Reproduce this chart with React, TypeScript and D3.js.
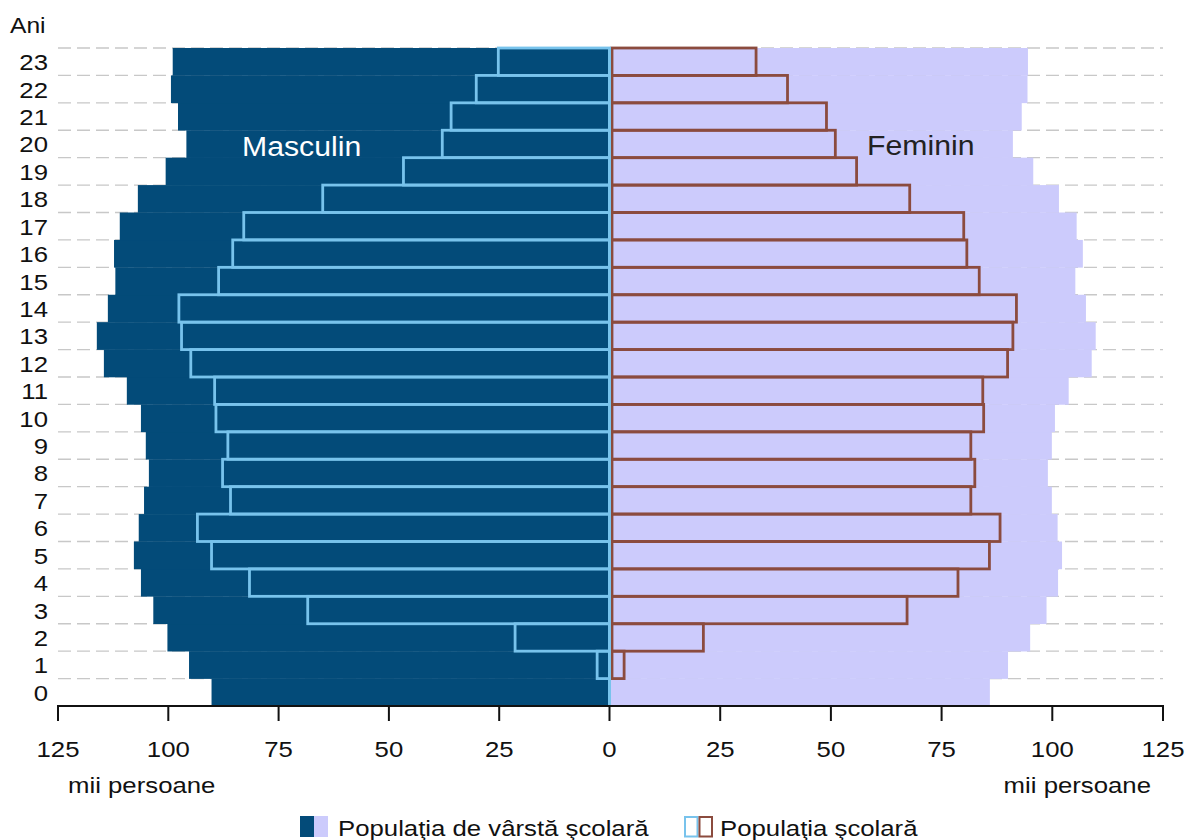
import React from "react";
import * as d3 from "d3";

const ages = [0, 1, 2, 3, 4, 5, 6, 7, 8, 9, 10, 11, 12, 13, 14, 15, 16, 17, 18, 19, 20, 21, 22, 23];
const maleTotal = [90.2, 95.3, 100.2, 103.4, 106.2, 107.8, 106.7, 105.5, 104.4, 105.1, 106.2, 109.4, 114.6, 116.2, 113.7, 112.0, 112.3, 111.0, 106.9, 100.6, 95.9, 97.8, 99.4, 99.0];
const femaleTotal = [85.9, 90.0, 95.0, 98.7, 101.3, 102.2, 101.2, 99.9, 99.0, 99.9, 100.6, 103.7, 108.9, 109.8, 107.6, 105.2, 106.9, 105.5, 101.5, 95.7, 91.1, 93.1, 94.4, 94.5];
const maleSchool = [0, 2.8, 21.4, 68.4, 81.6, 90.2, 93.4, 85.9, 87.7, 86.5, 89.2, 89.5, 94.9, 97.0, 97.6, 88.6, 85.4, 82.9, 65.0, 46.7, 37.9, 35.9, 30.2, 25.2];
const femaleSchool = [0, 3.3, 21.2, 67.2, 78.7, 85.8, 88.2, 81.6, 82.5, 81.6, 84.5, 84.3, 89.9, 91.1, 91.9, 83.5, 80.7, 80.0, 67.8, 55.8, 51.0, 49.0, 40.2, 33.1];
const tickValues = [0, 25, 50, 75, 100, 125];

const FONT = "'Liberation Sans', Arial, Helvetica, sans-serif";
const DARK = "#034b79";
const LAV = "#cccbfc";
const LBLUE = "#78c3ec";
const BROWN = "#8b4b3e";

const W = 1186;
const H = 840;
const X0 = 609.5;
const xL = d3.scaleLinear().domain([0, 125]).range([X0, 58]);
const xR = d3.scaleLinear().domain([0, 125]).range([X0, 1163]);
const y = d3
  .scaleBand<number>()
  .domain([...ages].reverse())
  .range([48, 706])
  .padding(0);

const SX = 1.12;

function T({ x, y: yy, size, anchor = "start", fill = "#111", children }: any) {
  return (
    <text
      transform={`translate(${x},${yy}) scale(${SX},1)`}
      fontSize={size}
      fontFamily={FONT}
      textAnchor={anchor}
      fill={fill}
    >
      {children}
    </text>
  );
}

export default function App() {
  const bw = y.bandwidth();
  const boundaries = ages.map((a) => y(a)!);
  return (
    <svg
      width={W}
      height={H}
      style={{ position: "absolute", left: 0, top: 0, background: "#fff" }}
    >
      {/* gridlines */}
      {boundaries.map((b, i) => (
        <line
          key={"g" + i}
          x1={58}
          x2={1163}
          y1={b}
          y2={b}
          stroke="#c8c8c8"
          strokeWidth={1.3}
          strokeDasharray="13 6"
        />
      ))}
      {/* total population bars */}
      {ages.map((a, i) => (
        <rect
          key={"mt" + a}
          x={xL(maleTotal[i])}
          y={y(a)!}
          width={X0 - xL(maleTotal[i])}
          height={bw + 0.3}
          fill={DARK}
        />
      ))}
      {ages.map((a, i) => (
        <rect
          key={"ft" + a}
          x={X0}
          y={y(a)!}
          width={xR(femaleTotal[i]) - X0}
          height={bw + 0.3}
          fill={LAV}
        />
      ))}
      {/* school population outlines */}
      {ages.map((a, i) =>
        maleSchool[i] > 0 ? (
          <rect
            key={"ms" + a}
            x={xL(maleSchool[i])}
            y={y(a)!}
            width={X0 - xL(maleSchool[i])}
            height={bw}
            fill="none"
            stroke={LBLUE}
            strokeWidth={2.8}
          />
        ) : null
      )}
      {ages.map((a, i) =>
        femaleSchool[i] > 0 ? (
          <rect
            key={"fs" + a}
            x={X0 + 2.5}
            y={y(a)!}
            width={xR(femaleSchool[i]) - X0 - 2.5}
            height={bw}
            fill="none"
            stroke={BROWN}
            strokeWidth={2.8}
          />
        ) : null
      )}
      <line x1={X0} x2={X0} y1={47} y2={706} stroke={LBLUE} strokeWidth={3} />
      {/* axis */}
      <line x1={57} x2={1164} y1={706} y2={706} stroke="#111" strokeWidth={2} />
      {tickValues.map((v) => (
        <g key={"tl" + v}>
          <line x1={xL(v)} x2={xL(v)} y1={706} y2={721} stroke="#111" strokeWidth={2} />
          <T x={xL(v)} y={757} size={23} anchor="middle">
            {v}
          </T>
        </g>
      ))}
      {tickValues
        .filter((v) => v > 0)
        .map((v) => (
          <g key={"tr" + v}>
            <line x1={xR(v)} x2={xR(v)} y1={706} y2={721} stroke="#111" strokeWidth={2} />
            <T x={xR(v)} y={757} size={23} anchor="middle">
              {v}
            </T>
          </g>
        ))}
      {/* age labels */}
      {ages.map((a) => (
        <T key={"a" + a} x={48} y={y(a)! + bw / 2 + 8.5} size={23} anchor="end">
          {a}
        </T>
      ))}
      <T x={10} y={33} size={22}>
        Ani
      </T>
      <T x={68} y={793} size={23}>
        mii persoane
      </T>
      <T x={1151} y={793} size={23} anchor="end">
        mii persoane
      </T>
      <T x={242} y={156} size={27} fill="#ffffff">
        Masculin
      </T>
      <T x={867} y={155} size={27} fill="#222">
        Feminin
      </T>
      {/* legend */}
      <rect x={300} y={816} width={14} height={21} fill={DARK} />
      <rect x={314} y={816} width={14} height={21} fill={LAV} />
      <T x={338} y={836} size={23}>
        Populaţia de vârstă şcolară
      </T>
      <rect x={685} y={817} width={12.5} height={19.5} fill="none" stroke={LBLUE} strokeWidth={2} />
      <rect x={699.5} y={817} width={12.5} height={19.5} fill="none" stroke={BROWN} strokeWidth={2} />
      <T x={720} y={836} size={23}>
        Populaţia şcolară
      </T>
    </svg>
  );
}
